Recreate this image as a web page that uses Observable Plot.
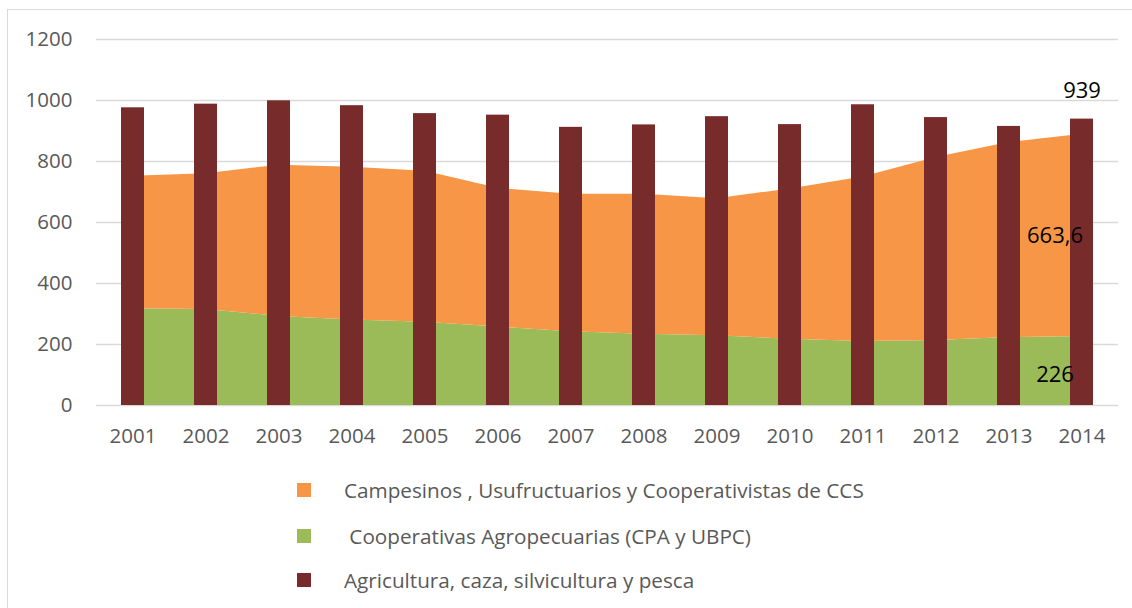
<!DOCTYPE html>
<html>
<head>
<meta charset="utf-8">
<script src="https://cdn.jsdelivr.net/npm/d3@7"></script>
<script src="https://cdn.jsdelivr.net/npm/@observablehq/plot@0.6"></script>
<style>
  html, body { margin: 0; padding: 0; background: #fff; }
  #wrap { position: relative; width: 1132px; height: 608px; overflow: hidden; font-family: "Open Sans", sans-serif; }
  #frame { position: absolute; left: 7px; top: 9px; width: 1140px; height: 620px; border: 1.5px solid #d9d9d9; box-sizing: border-box; }
  #chart { position: absolute; left: 0; top: 0; }
  .leg { position: absolute; left: 297px; display: flex; align-items: center; font-size: 20.7px; color: #595959; white-space: pre; }
  .leg .sw { width: 14px; height: 14px; margin-right: 33px; flex: none; }
</style>
</head>
<body>
<div id="wrap">
  <div id="frame"></div>
  <div id="chart"></div>
</div>
<script>
const years = ["2001","2002","2003","2004","2005","2006","2007","2008","2009","2010","2011","2012","2013","2014"];
const agricultura = [976, 988, 999, 983, 957, 952, 912, 920, 947, 921, 986, 944, 915, 939];
const campesinos = [435, 445, 496, 501, 495, 455, 451, 459, 449, 493, 539, 600, 639, 663.6];
const cooperativas = [317, 315, 292, 280, 273, 257, 242, 234, 229, 217, 210, 213, 223, 226];
const yTicks = [0, 200, 400, 600, 800, 1000, 1200];

const seriesNames = [
  "Campesinos , Usufructuarios y Cooperativistas de CCS",
  " Cooperativas Agropecuarias (CPA y UBPC)",
  "Agricultura, caza, silvicultura y pesca"
];
const legendColors = ["#F79646", "#9BBB59", "#772B2A"];

const areaData = [];
years.forEach((yr, i) => {
  areaData.push({year: yr, series: "coop", value: cooperativas[i]});
  areaData.push({year: yr, series: "camp", value: campesinos[i]});
});
const barData = years.map((yr, i) => ({year: yr, value: agricultura[i]}));
const last = years.length - 1;
const labelData = [
  {year: years[last], y: agricultura[last], text: String(agricultura[last]), dy: -28, dx: 0},
  {year: years[last], y: cooperativas[last] + campesinos[last] / 2, text: String(campesinos[last]).replace(".", ","), dy: 1, dx: -27},
  {year: years[last], y: cooperativas[last] / 2, text: String(cooperativas[last]), dy: 4, dx: -27}
];

const plot = Plot.plot({
  width: 1132,
  height: 462,
  marginLeft: 96,
  marginRight: 14,
  marginTop: 39,
  marginBottom: 57,
  style: {fontFamily: "Open Sans, sans-serif", background: "transparent"},
  x: {type: "band", domain: years, paddingInner: 0.685, paddingOuter: 0.3425, align: 0.5, label: null},
  y: {domain: [0, 1200], label: null},
  color: {domain: ["coop", "camp"], range: ["#9BBB59", "#F79646"]},
  marks: [
    Plot.ruleY(yTicks, {stroke: "#d9d9d9", strokeWidth: 1.5}),
    Plot.areaY(areaData, Plot.stackY({x: "year", y: "value", fill: "series", order: ["coop", "camp"], curve: "linear"})),
    Plot.barY(barData, {x: "year", y: "value", fill: "#772B2A"}),
    Plot.axisY(yTicks, {tickSize: 0, tickPadding: 24, fontSize: 20.5, fill: "#595959", label: null, tickFormat: d => String(d)}),
    Plot.axisX({tickSize: 0, tickPadding: 23, fontSize: 20.5, fill: "#595959", label: null}),
    Plot.text(labelData, {x: "year", y: "y", text: "text", fontSize: 22, fill: "#000"})
  ]
});
document.getElementById("chart").appendChild(plot);

// per-datum label offsets
{
  const texts = plot.querySelectorAll("g[aria-label='text'] text");
  texts.forEach((t, i) => {
    const d = labelData[i];
    const tr = t.getAttribute("transform") || "";
    t.setAttribute("transform", tr + ` translate(${d.dx},${d.dy})`);
  });
}

const legendCenters = [490, 535.5, 580];
seriesNames.forEach((name, i) => {
  const div = document.createElement("div");
  div.className = "leg";
  div.style.top = (legendCenters[i] - 14) + "px";
  div.style.height = "28px";
  const sw = document.createElement("div");
  sw.className = "sw";
  sw.style.background = legendColors[i];
  const tx = document.createElement("span");
  tx.textContent = name;
  div.appendChild(sw);
  div.appendChild(tx);
  document.getElementById("wrap").appendChild(div);
});
</script>
</body>
</html>
